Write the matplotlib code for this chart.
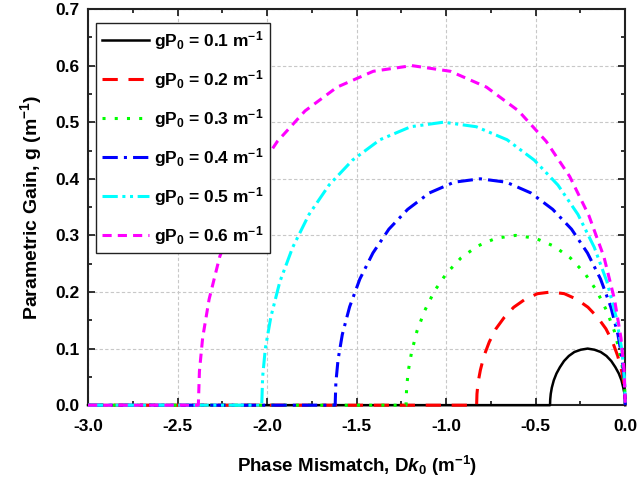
import matplotlib
matplotlib.use("Agg")
import matplotlib.pyplot as plt
from matplotlib.ticker import MultipleLocator, FormatStrFormatter

plt.rcParams['font.family'] = ['Liberation Sans', 'DejaVu Sans']
plt.rcParams['font.weight'] = 'bold'
plt.rcParams['axes.labelweight'] = 'bold'
plt.rcParams['mathtext.fontset'] = 'custom'
plt.rcParams['mathtext.rm'] = 'Liberation Sans:bold'
plt.rcParams['mathtext.bf'] = 'Liberation Sans:bold'
plt.rcParams['mathtext.it'] = 'Liberation Sans:bold:italic'

# gamma*P0 values, one curve each
gp_values = [0.1, 0.2, 0.3, 0.4, 0.5, 0.6]

# phase mismatch (m^-1) and gain (m^-1)
dk_01 = [-3.0, -0.42, -0.419, -0.416, -0.410, -0.399, -0.384, -0.365, -0.342, -0.315, -0.284, -0.248,
         -0.21, -0.172, -0.137, -0.105, -0.078, -0.055, -0.036, -0.021, -0.011, -0.004, -0.001, 0.0]
g_01 = [0.0, 0.0, 0.010, 0.020, 0.031, 0.044, 0.056, 0.067, 0.078, 0.087, 0.094, 0.098,
        0.100, 0.098, 0.094, 0.087, 0.078, 0.067, 0.056, 0.044, 0.031, 0.020, 0.010, 0.0]

dk_02 = [-3.0, -0.83, -0.828, -0.822, -0.809, -0.789, -0.759, -0.722, -0.676, -0.623, -0.560, -0.490,
         -0.415, -0.340, -0.270, -0.208, -0.154, -0.108, -0.071, -0.042, -0.021, -0.008, -0.002, 0.0]
g_02 = [0.0, 0.0, 0.020, 0.040, 0.062, 0.087, 0.112, 0.135, 0.155, 0.173, 0.187, 0.197,
        0.200, 0.197, 0.187, 0.173, 0.155, 0.135, 0.112, 0.087, 0.062, 0.040, 0.020, 0.0]

dk_03 = [-3.0, -1.224, -1.221, -1.212, -1.193, -1.163, -1.120, -1.065, -0.998, -0.918, -0.826, -0.722,
         -0.612, -0.502, -0.398, -0.306, -0.226, -0.159, -0.104, -0.061, -0.031, -0.012, -0.003, 0.0]
g_03 = [0.0, 0.0, 0.030, 0.060, 0.094, 0.131, 0.167, 0.202, 0.233, 0.260, 0.281, 0.295,
        0.300, 0.295, 0.281, 0.260, 0.233, 0.202, 0.167, 0.131, 0.094, 0.060, 0.030, 0.0]

dk_04 = [-3.0, -1.62, -1.616, -1.604, -1.580, -1.539, -1.482, -1.409, -1.320, -1.215, -1.094, -0.956,
         -0.81, -0.664, -0.527, -0.405, -0.300, -0.211, -0.138, -0.081, -0.041, -0.016, -0.004, 0.0]
g_04 = [0.0, 0.0, 0.040, 0.080, 0.125, 0.174, 0.223, 0.269, 0.311, 0.346, 0.375, 0.394,
        0.400, 0.394, 0.375, 0.346, 0.311, 0.269, 0.223, 0.174, 0.125, 0.080, 0.040, 0.0]

dk_05 = [-3.0, -2.03, -2.025, -2.010, -1.979, -1.929, -1.857, -1.766, -1.654, -1.523, -1.370, -1.198,
         -1.015, -0.832, -0.660, -0.508, -0.376, -0.264, -0.173, -0.102, -0.051, -0.020, -0.005, 0.0]
g_05 = [0.0, 0.0, 0.050, 0.100, 0.156, 0.218, 0.279, 0.337, 0.389, 0.433, 0.469, 0.492,
        0.500, 0.492, 0.469, 0.433, 0.389, 0.337, 0.279, 0.218, 0.156, 0.100, 0.050, 0.0]

dk_06 = [-3.0, -2.384, -2.378, -2.360, -2.324, -2.265, -2.181, -2.074, -1.943, -1.788, -1.609, -1.407,
         -1.192, -0.977, -0.775, -0.596, -0.441, -0.310, -0.203, -0.119, -0.060, -0.024, -0.006, 0.0]
g_06 = [0.0, 0.0, 0.060, 0.119, 0.187, 0.262, 0.335, 0.404, 0.466, 0.520, 0.562, 0.590,
        0.600, 0.590, 0.562, 0.520, 0.466, 0.404, 0.335, 0.262, 0.187, 0.119, 0.060, 0.0]

curves = [(dk_01, g_01), (dk_02, g_02), (dk_03, g_03),
          (dk_04, g_04), (dk_05, g_05), (dk_06, g_06)]
colors = ['black', 'red', '#00ff00', 'blue', 'cyan', 'magenta']
styles = ['-', (0, (5, 3.5)), (0, (1, 3)), (0, (5, 2, 1, 2)),
          (0, (5, 1.5, 1, 1.5, 1, 1.5)), (0, (3, 2))]
widths = [1.8, 2.2, 2.2, 2.2, 2.2, 2.2]

fig, ax = plt.subplots(figsize=(6.38, 4.87), dpi=100)
fig.subplots_adjust(left=0.138, right=0.98, bottom=0.168, top=0.9815)

for (dk, g), gp, c, ls, lw in zip(curves, gp_values, colors, styles, widths):
    ax.plot(dk, g, color=c, linestyle=ls, linewidth=lw, clip_on=False, zorder=3,
            label='g$\\mathrm{P}_0$ = %.1f m$^{-1}$' % gp)

ax.set_xlim(-3.0, 0.0)
ax.set_ylim(0.0, 0.7)
ax.xaxis.set_major_locator(MultipleLocator(0.5))
ax.xaxis.set_minor_locator(MultipleLocator(0.25))
ax.yaxis.set_major_locator(MultipleLocator(0.1))
ax.yaxis.set_minor_locator(MultipleLocator(0.05))
ax.xaxis.set_major_formatter(FormatStrFormatter('%.1f'))
ax.yaxis.set_major_formatter(FormatStrFormatter('%.1f'))
ax.tick_params(which='both', direction='in', top=True, right=True, width=1.3,
               color='#222222', labelsize=12.5)
ax.tick_params(which='major', length=5)
ax.tick_params(which='minor', length=3)
ax.tick_params(axis='x', pad=10)
ax.tick_params(axis='y', pad=6)
for s in ax.spines.values():
    s.set_linewidth(1.5)
    s.set_color('#222222')
ax.grid(True, which='major', linestyle=(0, (3, 2)), color='#c8c8c8', linewidth=0.8)
ax.set_axisbelow(True)

ax.set_xlabel('Phase Mismatch, D$\\mathit{k}_0$ (m$^{-1}$)', fontsize=13.5, labelpad=14)
ax.set_ylabel('Parametric Gain, g (m$^{-1}$)', fontsize=14, labelpad=8)

leg = ax.legend(loc='upper left', bbox_to_anchor=(0.015, 0.965), borderaxespad=0,
                fontsize=12.5, handlelength=2.7, handletextpad=0.3, labelspacing=0.93,
                borderpad=0.35, fancybox=False, framealpha=1, edgecolor='#222222')
leg.get_frame().set_linewidth(1.0)

fig.savefig('out.png', dpi=100)
